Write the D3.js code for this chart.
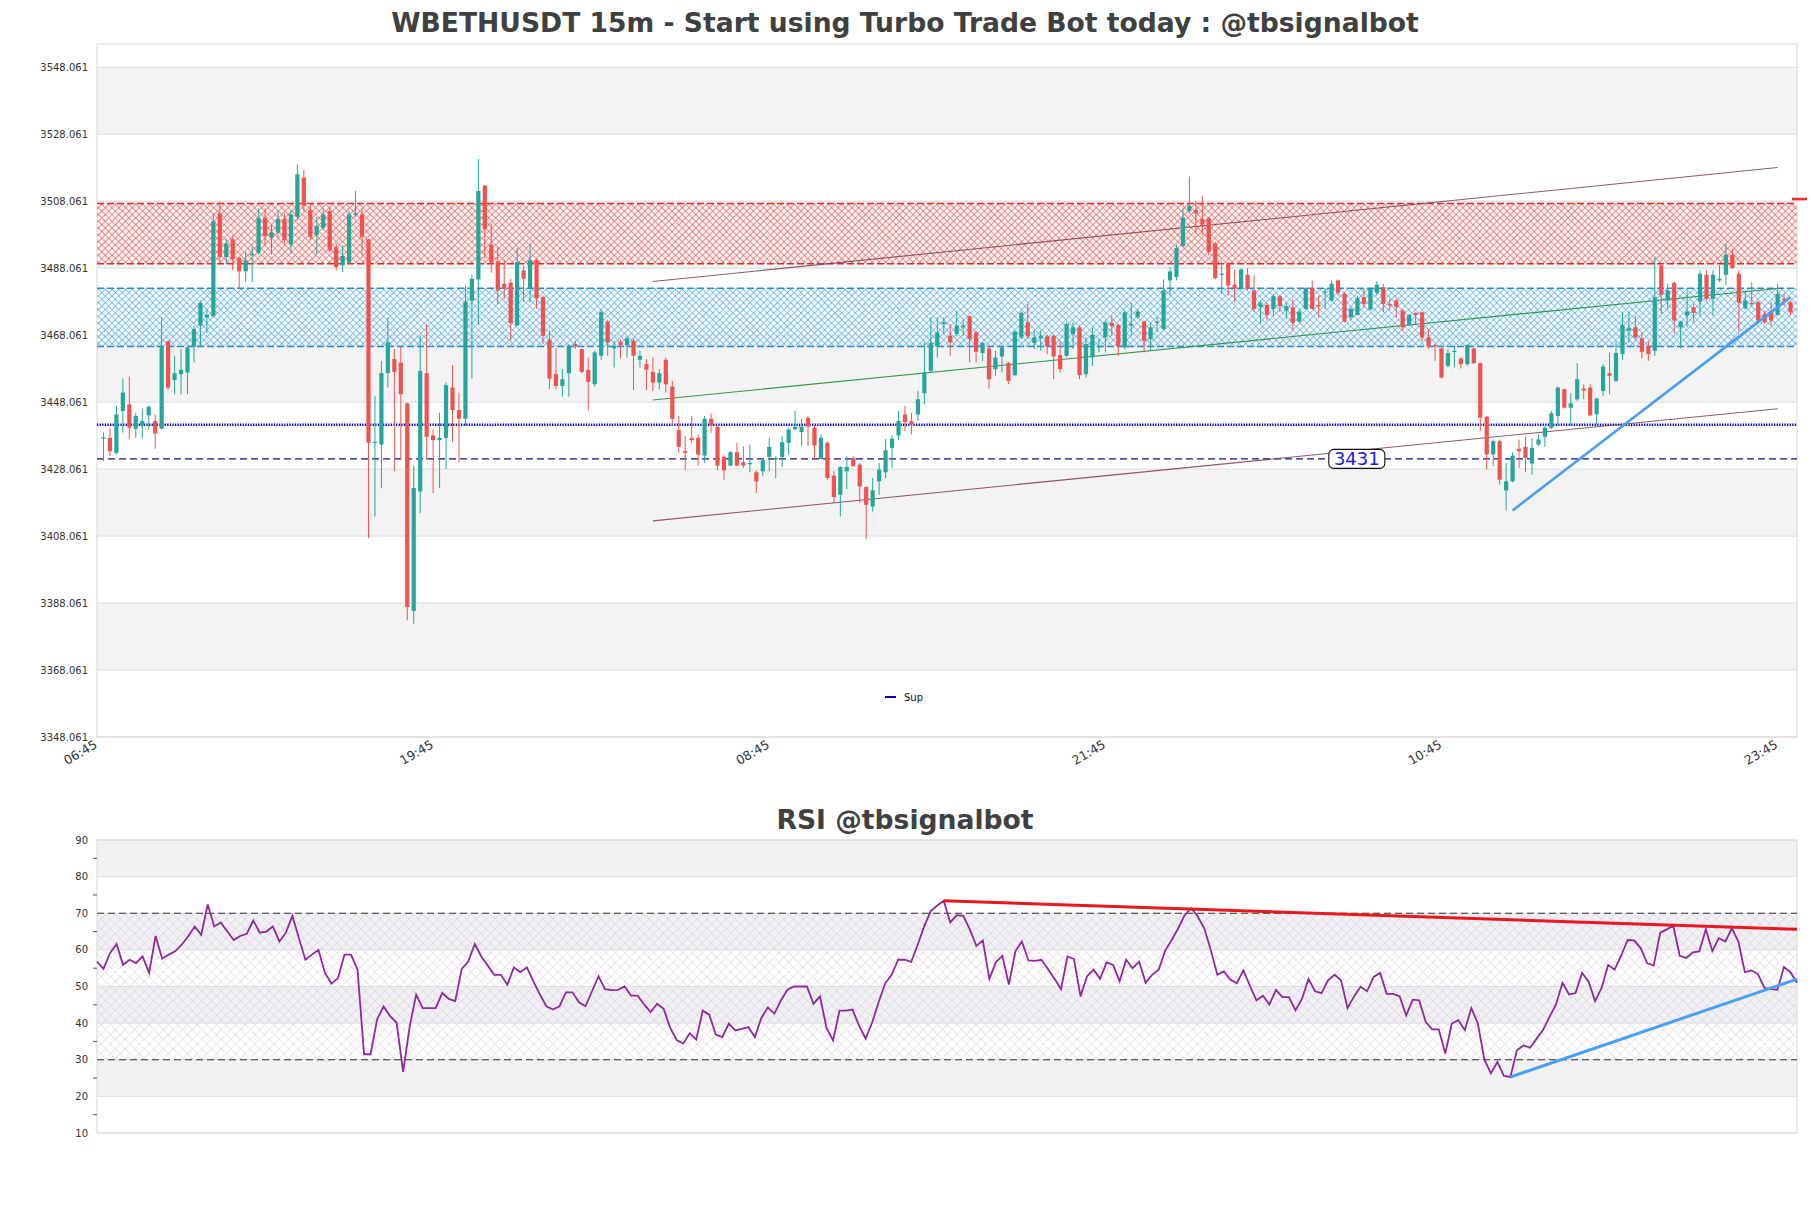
<!DOCTYPE html>
<html>
<head>
<meta charset="utf-8">
<script src="https://cdnjs.cloudflare.com/ajax/libs/d3/7.8.5/d3.min.js"></script>
<style>
  body { margin: 0; background: #fff; }
  svg { display: block; font-family: "DejaVu Sans", sans-serif; }
</style>
</head>
<body>
<div id="chart"></div>
<script>
// 15m candles, [open, high, low, close]
const ohlc = [
  [3437.3,3439.0,3430.4,3437.5],[3437.4,3440.4,3431.9,3433.4],[3432.9,3446.9,3432.4,3444.4],[3445.4,3455.1,3438.9,3450.9],
  [3447.4,3455.7,3436.9,3440.4],[3440.1,3444.9,3437.4,3443.9],[3441.1,3446.1,3437.1,3442.4],[3444.1,3446.9,3439.9,3446.7],
  [3442.4,3444.4,3434.1,3438.7],[3440.1,3473.4,3439.9,3464.9],[3466.2,3466.4,3451.7,3452.4],[3454.7,3461.9,3450.4,3456.7],
  [3456.4,3463.9,3450.4,3457.7],[3456.9,3464.9,3450.4,3464.4],[3464.7,3470.9,3459.9,3469.9],[3470.9,3478.4,3464.4,3477.7],
  [3473.4,3475.9,3468.7,3474.1],[3473.7,3504.4,3473.4,3502.1],[3504.4,3507.9,3489.4,3491.4],[3491.4,3496.9,3489.4,3495.4],
  [3496.7,3497.9,3487.4,3490.7],[3491.1,3491.4,3481.9,3487.1],[3487.1,3492.9,3483.9,3490.4],[3491.9,3494.4,3483.9,3492.4],
  [3492.7,3505.9,3492.1,3503.1],[3503.1,3505.9,3494.9,3497.7],[3497.1,3500.9,3492.1,3498.7],[3498.7,3505.4,3497.4,3502.7],
  [3502.7,3504.4,3495.4,3496.4],[3495.1,3505.4,3492.4,3504.1],[3503.4,3519.1,3502.4,3516.1],[3515.1,3517.4,3504.9,3506.7],
  [3505.4,3507.4,3496.4,3497.4],[3497.9,3503.4,3492.1,3500.7],[3500.1,3505.9,3499.4,3504.1],[3505.1,3506.4,3492.9,3493.4],
  [3494.4,3495.4,3487.4,3488.4],[3488.9,3494.9,3486.9,3491.7],[3489.7,3505.4,3489.4,3504.1],[3503.9,3511.1,3503.4,3504.4],
  [3504.1,3505.9,3491.9,3497.4],[3496.7,3496.9,3407.4,3435.9],[3435.9,3449.9,3413.9,3436.2],[3435.4,3460.4,3422.4,3456.7],
  [3456.7,3473.4,3452.4,3465.9],[3460.9,3463.9,3427.4,3457.1],[3459.9,3464.9,3430.9,3450.4],[3447.7,3447.9,3382.9,3386.9],
  [3385.7,3429.1,3381.9,3422.4],[3421.4,3467.9,3414.9,3457.4],[3456.7,3471.4,3430.9,3437.7],[3438.1,3439.9,3420.9,3436.7],
  [3436.7,3444.9,3422.4,3437.4],[3437.4,3453.9,3428.1,3453.1],[3452.4,3459.1,3436.1,3445.7],[3445.7,3450.9,3430.1,3443.1],
  [3443.1,3482.9,3441.1,3478.1],[3478.4,3486.1,3455.1,3484.9],[3484.7,3520.7,3471.1,3511.1],[3512.7,3512.9,3490.9,3499.7],
  [3495.1,3501.4,3486.7,3489.7],[3490.1,3494.4,3477.4,3481.4],[3483.4,3490.4,3478.9,3481.9],[3483.7,3484.9,3466.4,3471.7],
  [3470.9,3494.1,3470.9,3489.9],[3487.4,3488.9,3477.9,3484.9],[3482.1,3495.4,3477.9,3490.4],[3490.4,3490.9,3476.0,3479.1],
  [3479.4,3479.9,3465.4,3467.9],[3466.7,3469.4,3451.9,3455.1],[3456.4,3464.1,3451.9,3452.9],[3452.9,3457.9,3449.7,3454.9],
  [3456.7,3465.4,3449.7,3464.9],[3465.4,3466.4,3463.9,3464.7],[3463.9,3464.1,3456.7,3457.1],[3457.7,3461.4,3445.4,3454.1],
  [3453.4,3463.4,3452.7,3462.9],[3461.9,3475.9,3460.7,3474.9],[3472.1,3472.7,3461.9,3465.9],[3464.1,3466.4,3458.4,3464.9],
  [3466.1,3466.7,3461.1,3465.1],[3465.1,3467.7,3461.4,3467.1],[3466.4,3467.1,3451.7,3461.9],[3460.7,3463.4,3458.4,3461.9],
  [3459.4,3460.9,3451.7,3457.7],[3457.1,3461.4,3451.4,3453.9],[3453.9,3457.9,3451.9,3456.7],[3460.7,3461.4,3450.9,3453.4],
  [3452.7,3454.4,3441.1,3443.1],[3439.7,3443.9,3432.9,3434.7],[3433.4,3437.9,3427.7,3432.9],[3437.4,3443.9,3435.9,3436.7],
  [3437.4,3438.4,3429.1,3432.4],[3432.1,3443.9,3429.9,3443.1],[3443.1,3444.7,3438.9,3441.1],[3440.7,3440.9,3427.7,3429.1],
  [3431.7,3432.1,3424.9,3427.7],[3429.1,3433.4,3428.9,3433.1],[3433.1,3435.9,3428.9,3429.1],[3430.1,3434.9,3428.4,3429.1],
  [3429.5,3435.4,3427.1,3429.9],[3427.1,3427.7,3420.9,3424.4],[3427.4,3431.4,3425.9,3430.7],[3431.7,3437.4,3427.4,3434.7],
  [3430.9,3431.9,3425.4,3431.4],[3431.7,3437.9,3428.7,3436.1],[3435.9,3440.4,3432.4,3439.9],[3439.9,3445.4,3439.9,3440.7],
  [3439.1,3443.1,3434.9,3440.7],[3443.4,3443.9,3434.9,3440.7],[3440.4,3440.9,3430.7,3435.1],[3431.1,3438.4,3430.9,3437.4],
  [3435.9,3436.4,3424.9,3425.4],[3426.1,3427.4,3417.9,3419.7],[3420.4,3428.9,3413.9,3428.7],[3427.4,3431.9,3422.1,3428.7],
  [3431.4,3431.9,3428.9,3428.9],[3429.4,3429.9,3417.9,3422.9],[3422.7,3422.9,3407.1,3417.4],[3416.9,3425.4,3415.4,3421.7],
  [3424.4,3429.9,3420.4,3427.9],[3427.1,3437.1,3425.4,3433.7],[3434.4,3438.1,3428.4,3437.1],[3438.1,3445.4,3436.7,3442.4],
  [3444.4,3446.9,3439.4,3442.1],[3442.4,3444.9,3438.4,3441.4],[3444.4,3451.4,3442.4,3448.9],[3450.7,3465.9,3447.4,3456.9],
  [3457.4,3473.4,3456.7,3465.7],[3464.7,3473.4,3461.4,3468.9],[3471.4,3473.4,3468.4,3471.9],[3467.9,3471.4,3461.9,3465.9],
  [3468.4,3475.4,3467.7,3470.9],[3470.4,3472.7,3467.9,3470.9],[3473.7,3473.9,3459.9,3466.9],[3468.9,3469.4,3459.9,3463.1],
  [3462.7,3466.1,3460.4,3465.7],[3464.1,3464.9,3452.1,3454.9],[3457.9,3463.4,3455.9,3461.4],[3461.7,3464.9,3456.9,3464.4],
  [3459.7,3460.1,3453.4,3454.4],[3456.1,3469.4,3455.9,3469.1],[3467.4,3475.1,3466.9,3474.7],[3471.9,3477.4,3466.9,3467.7],
  [3465.7,3469.4,3463.9,3467.4],[3467.1,3469.4,3463.4,3467.9],[3467.7,3468.1,3462.4,3464.7],[3467.9,3468.1,3454.9,3461.7],
  [3462.1,3466.4,3456.9,3457.9],[3461.9,3471.9,3461.4,3471.4],[3468.4,3471.9,3463.9,3470.4],[3470.4,3470.9,3454.9,3456.1],
  [3456.4,3467.4,3455.4,3465.4],[3461.4,3470.4,3458.9,3468.1],[3464.4,3466.9,3462.9,3464.9],[3467.4,3472.4,3462.9,3471.9],
  [3471.7,3473.9,3467.9,3470.7],[3471.1,3471.4,3461.9,3464.7],[3464.4,3475.4,3463.9,3474.9],[3470.9,3477.7,3467.9,3471.4],
  [3473.4,3475.9,3472.9,3475.1],[3472.1,3472.4,3462.9,3466.4],[3466.9,3471.9,3463.4,3470.4],[3471.7,3473.4,3468.9,3472.1],
  [3469.9,3484.7,3469.4,3481.4],[3484.4,3488.4,3479.9,3487.1],[3485.4,3495.1,3484.4,3494.1],[3494.7,3505.9,3494.4,3503.1],
  [3505.1,3515.4,3504.4,3506.7],[3505.4,3508.1,3498.4,3504.4],[3502.7,3509.7,3497.9,3501.1],[3502.9,3503.4,3491.9,3492.9],
  [3495.4,3495.9,3484.7,3485.1],[3486.1,3490.1,3480.4,3486.4],[3489.4,3489.9,3479.9,3482.9],[3483.1,3487.7,3477.9,3481.9],
  [3481.9,3487.9,3481.4,3487.7],[3486.1,3488.1,3481.4,3481.9],[3481.4,3485.9,3474.9,3475.9],[3476.4,3478.4,3471.4,3477.7],
  [3477.1,3477.7,3472.4,3474.1],[3475.9,3480.4,3473.9,3479.7],[3479.7,3480.1,3474.9,3476.7],[3475.4,3477.9,3472.9,3476.7],
  [3476.4,3478.9,3469.4,3471.7],[3472.1,3475.9,3471.9,3475.1],[3475.9,3482.4,3475.7,3482.1],[3482.1,3484.4,3475.7,3475.9],
  [3477.1,3479.9,3473.4,3476.7],[3480.7,3482.1,3475.9,3481.1],[3478.4,3484.4,3477.9,3483.4],[3484.4,3484.7,3479.9,3480.7],
  [3480.4,3480.9,3471.9,3472.1],[3473.4,3476.4,3472.7,3475.9],[3474.1,3479.9,3473.9,3479.1],[3479.4,3482.1,3476.1,3477.4],
  [3475.7,3482.1,3475.4,3481.9],[3480.7,3484.1,3479.9,3483.1],[3482.4,3483.4,3474.9,3477.4],[3477.4,3478.9,3475.4,3476.9],
  [3478.4,3478.9,3473.4,3476.4],[3475.4,3475.9,3469.4,3470.4],[3471.1,3474.4,3470.9,3474.1],[3474.7,3474.9,3471.1,3474.1],
  [3474.9,3475.1,3466.1,3467.4],[3467.4,3469.9,3463.9,3464.9],[3465.1,3465.4,3460.4,3464.7],[3464.1,3464.4,3455.1,3455.4],
  [3458.9,3463.9,3458.4,3462.7],[3463.1,3464.9,3458.4,3463.4],[3461.1,3461.4,3458.1,3459.4],[3459.4,3465.4,3458.9,3465.1],
  [3464.1,3464.4,3459.4,3459.7],[3459.7,3459.9,3439.4,3443.4],[3443.7,3443.9,3427.9,3432.4],[3432.4,3436.9,3428.9,3436.4],
  [3436.4,3436.9,3423.4,3424.9],[3421.7,3429.9,3415.7,3424.4],[3424.4,3433.1,3424.1,3432.1],[3434.1,3436.9,3428.4,3433.4],
  [3434.7,3437.7,3427.1,3431.4],[3429.7,3437.4,3426.4,3434.4],[3435.4,3438.4,3434.9,3436.9],[3437.7,3440.9,3434.7,3440.4],
  [3440.4,3445.4,3440.1,3444.7],[3443.9,3452.7,3441.1,3452.4],[3451.9,3452.1,3446.1,3446.4],[3446.4,3450.7,3441.1,3447.7],
  [3448.9,3459.7,3448.4,3454.9],[3452.1,3453.4,3448.9,3451.5],[3452.4,3453.4,3443.9,3444.1],[3444.4,3449.4,3441.4,3449.1],
  [3451.4,3459.4,3449.9,3458.7],[3456.7,3462.9,3450.4,3455.9],[3454.4,3466.1,3454.1,3462.7],[3462.4,3474.9,3460.7,3471.1],
  [3469.4,3475.1,3465.9,3470.1],[3470.4,3473.9,3466.9,3467.4],[3467.1,3468.9,3461.1,3463.1],[3464.9,3466.4,3460.4,3462.4],
  [3463.4,3491.4,3461.9,3479.4],[3488.9,3489.4,3474.4,3480.1],[3478.4,3483.4,3475.9,3481.4],[3483.7,3484.1,3468.4,3472.4],
  [3470.4,3472.4,3464.1,3472.1],[3473.9,3481.4,3470.4,3475.1],[3476.4,3477.4,3472.1,3474.7],[3478.1,3487.4,3473.9,3486.4],
  [3486.1,3487.4,3478.4,3478.9],[3478.9,3487.4,3473.9,3486.1],[3484.4,3488.9,3483.9,3484.9],[3486.1,3495.4,3483.1,3492.1],
  [3492.1,3493.9,3487.9,3488.1],[3486.4,3487.4,3469.1,3477.7],[3476.1,3481.4,3475.7,3478.4],[3477.7,3483.9,3476.9,3477.3],
  [3477.9,3478.4,3472.1,3472.4],[3474.4,3475.4,3471.4,3471.9],[3475.1,3478.1,3470.9,3472.4],[3474.1,3483.4,3473.9,3480.4],
  [3478.9,3480.4,3476.9,3478.4],[3477.9,3478.4,3473.9,3474.9]
];

const rsi = [
  56.8,54.8,59.1,61.6,55.9,57.3,56.4,58.2,53.7,63.8,
  57.6,58.7,59.6,61.4,63.7,66.4,64.1,72.4,66.4,67.5,
  65.0,62.7,63.8,64.4,68.0,64.7,65.0,66.4,62.3,64.7,
  69.3,63.2,57.3,58.7,60.0,53.7,50.8,52.3,58.7,58.7,
  54.6,31.5,31.5,41.0,44.6,41.9,40.1,26.7,39.0,47.8,
  44.1,44.1,44.1,48.2,46.6,46.0,54.8,56.8,61.6,58.2,
  55.7,53.2,53.2,50.5,55.2,53.9,55.2,51.4,47.8,44.6,
  43.7,44.6,48.4,48.4,45.7,44.6,48.7,52.8,49.3,49.0,
  49.1,50.0,47.5,47.5,45.1,43.0,45.3,43.9,38.7,35.4,
  34.4,37.2,35.5,43.4,42.3,36.9,36.2,39.9,38.0,38.4,
  38.9,36.2,41.4,44.3,42.6,46.2,49.1,50.0,50.0,50.0,
  45.3,47.3,38.7,35.3,43.4,43.4,43.7,39.3,35.8,40.1,
  45.7,50.8,53.2,57.3,57.3,56.7,61.4,66.4,70.6,72.1,
  73.4,67.5,69.5,69.3,65.6,61.1,62.6,52.1,56.6,58.4,
  50.5,59.6,62.3,57.1,57.0,57.3,54.8,52.1,49.3,58.2,
  57.5,47.3,52.8,54.6,52.1,56.6,55.9,51.4,57.3,55.0,
  56.8,51.0,53.2,54.6,59.8,62.7,65.9,69.5,71.4,69.1,
  65.9,60.0,53.2,54.1,51.9,50.9,54.4,50.2,46.2,47.5,
  45.1,49.1,47.1,47.1,43.5,46.6,52.1,48.7,48.2,51.7,
  53.2,51.7,44.1,47.3,49.9,48.7,52.6,53.7,48.0,48.0,
  47.3,42.1,46.4,46.2,40.3,38.3,38.3,31.7,39.9,40.8,
  38.1,44.1,39.9,30.1,26.3,29.4,25.6,25.3,32.6,33.9,
  33.3,35.7,38.1,41.7,45.1,51.0,47.8,48.2,53.7,51.4,
  46.0,49.6,55.9,54.6,58.4,62.7,62.6,60.5,56.4,55.7,
  64.7,65.6,66.6,58.4,57.8,59.3,59.6,65.6,59.7,63.2,
  62.3,65.9,62.3,53.9,54.4,53.4,49.6,49.3,49.1,55.3,
  53.9,51.0
];

const priceTicks = [3348.061,3368.061,3388.061,3408.061,3428.061,3448.061,3468.061,3488.061,3508.061,3528.061,3548.061];
const timeTickIdx = [0, 52, 104, 156, 208, 260];
const timeLabels = ['06:45', '19:45', '08:45', '21:45', '10:45', '23:45'];
const rsiTicks = [10, 20, 30, 40, 50, 60, 70, 80, 90];

const resistZone = [3489.4, 3507.4];
const supportZone = [3464.7, 3482.1];
const supLevel = 3441.3;
const dashLevel = 3431.1;
const dashLabel = '3431';
const edgeMark = 3508.7;

// trend lines as [[index, price], [index, price]]
const upperChannel = [[85, 3484.1], [259, 3518.1]];
const lowerChannel = [[85, 3412.6], [259, 3446.1]];
const midTrend = [[85, 3448.7], [259, 3482.0]];
const riseTrend = [[218, 3415.7], [261, 3479.4]];
const rsiFall = [[130, 73.4], [261, 65.6]];
const rsiRise = [[217, 25.3], [261, 52.0]];

const W = 1811, H = 1208;
const left = 97, right = 1797;
const main = { top: 44, bottom: 737 };
const sub = { top: 840, bottom: 1133 };

const svg = d3.select('#chart').append('svg')
  .attr('width', W).attr('height', H)
  .attr('viewBox', [0, 0, W, H].join(' '));

const x = d3.scaleLinear().domain([-1, ohlc.length]).range([left, right]);
const y = d3.scaleLinear().domain([3348.061, 3555]).range([main.bottom, main.top]);
const xr = d3.scaleLinear().domain([0, rsi.length - 1]).range([left, right]);
const yr = d3.scaleLinear().domain([10, 90]).range([sub.bottom, sub.top]);

// hatch patterns
const defs = svg.append('defs');
function hatch(id, size, color, width) {
  const p = defs.append('pattern')
    .attr('id', id)
    .attr('patternUnits', 'userSpaceOnUse')
    .attr('width', size).attr('height', size)
    .attr('patternTransform', 'rotate(45)');
  p.append('line').attr('x1', 0).attr('y1', 0).attr('x2', size).attr('y2', 0)
    .attr('stroke', color).attr('stroke-width', width);
  p.append('line').attr('x1', 0).attr('y1', 0).attr('x2', 0).attr('y2', size)
    .attr('stroke', color).attr('stroke-width', width);
}
hatch('hatchRed', 4.8, '#e0302e', 1.0);
hatch('hatchBlue', 4.8, '#1f8fd6', 1.0);
hatch('hatchRsi', 6.8, '#d3c3d3', 0.8);

// ---------- main chart ----------
const g = svg.append('g');

// alternating bands
priceTicks.slice(0, -1).forEach((t, i) => {
  if (i % 2 === 1) {
    g.append('rect')
      .attr('x', left).attr('width', right - left)
      .attr('y', y(priceTicks[i + 1])).attr('height', y(t) - y(priceTicks[i + 1]))
      .attr('fill', '#f3f3f3');
  }
});

g.selectAll('.grid').data(priceTicks).enter().append('line')
  .attr('x1', left).attr('x2', right)
  .attr('y1', d => y(d)).attr('y2', d => y(d))
  .attr('stroke', '#dcdcdc').attr('stroke-width', 1);

g.append('rect')
  .attr('x', left).attr('y', main.top)
  .attr('width', right - left).attr('height', main.bottom - main.top)
  .attr('fill', 'none').attr('stroke', '#d8d8d8');

// zones
function zone(range, fill, hatchId, stroke) {
  const y0 = y(range[1]), y1 = y(range[0]);
  g.append('rect').attr('x', left).attr('width', right - left)
    .attr('y', y0).attr('height', y1 - y0).attr('fill', fill);
  g.append('rect').attr('x', left).attr('width', right - left)
    .attr('y', y0).attr('height', y1 - y0).attr('fill', 'url(#' + hatchId + ')');
  [y0, y1].forEach(v => {
    g.append('line').attr('x1', left).attr('x2', right)
      .attr('y1', v).attr('y2', v)
      .attr('stroke', stroke).attr('stroke-width', 1.5)
      .attr('stroke-dasharray', '7,3');
  });
}
zone(resistZone, 'rgba(255,240,240,0.6)', 'hatchRed', '#df2a2a');
zone(supportZone, 'rgba(240,248,255,0.5)', 'hatchBlue', '#1e8fd5');

// horizontal levels
g.append('line')
  .attr('x1', left).attr('x2', right)
  .attr('y1', y(supLevel)).attr('y2', y(supLevel))
  .attr('stroke', '#0000d0').attr('stroke-width', 2.4)
  .attr('stroke-dasharray', '1.3,1.3');
g.append('line')
  .attr('x1', left).attr('x2', right)
  .attr('y1', y(dashLevel)).attr('y2', y(dashLevel))
  .attr('stroke', '#10108a').attr('stroke-width', 1.3)
  .attr('stroke-dasharray', '7,4');

// thin channel lines
const seg = (pts, xs, ys) => d3.line().x(d => xs(d[0])).y(d => ys(d[1]))(pts);
g.append('path').attr('d', seg(upperChannel, x, y))
  .attr('stroke', '#7d3b4e').attr('stroke-width', 1.1).attr('fill', 'none').attr('opacity', 0.85);
g.append('path').attr('d', seg(lowerChannel, x, y))
  .attr('stroke', '#7d3b4e').attr('stroke-width', 1.1).attr('fill', 'none').attr('opacity', 0.85);
g.append('path').attr('d', seg(midTrend, x, y))
  .attr('stroke', '#2e9a46').attr('stroke-width', 1.1).attr('fill', 'none');

// candles
const bw = 4.2;
const candles = g.append('g').selectAll('g').data(ohlc).enter().append('g');
candles.append('line')
  .attr('x1', (d, i) => x(i)).attr('x2', (d, i) => x(i))
  .attr('y1', d => y(d[1])).attr('y2', d => y(d[2]))
  .attr('stroke', d => d[3] >= d[0] ? '#26a69a' : '#ef5350')
  .attr('stroke-width', 1);
candles.append('rect')
  .attr('x', (d, i) => x(i) - bw / 2).attr('width', bw)
  .attr('y', d => y(Math.max(d[0], d[3])))
  .attr('height', d => Math.max(1.2, Math.abs(y(d[0]) - y(d[3]))))
  .attr('fill', d => d[3] >= d[0] ? '#26a69a' : '#ef5350');

// rising trend line
g.append('path').attr('d', seg(riseTrend, x, y))
  .attr('stroke', '#4a9ff0').attr('stroke-width', 2.6).attr('fill', 'none');

// price label on dashed level
const lx = x(193.9), ly = y(dashLevel);
g.append('rect')
  .attr('x', lx - 28).attr('y', ly - 9.5).attr('width', 56).attr('height', 19)
  .attr('rx', 5).attr('fill', '#fff').attr('stroke', '#111').attr('stroke-width', 1.1);
g.append('text')
  .attr('x', lx).attr('y', ly + 6.5)
  .attr('text-anchor', 'middle').attr('font-size', 18)
  .attr('fill', '#1a1ad8').text(dashLabel);

// little red mark past the right edge
g.append('line')
  .attr('x1', right - 5).attr('x2', right + 10)
  .attr('y1', y(edgeMark)).attr('y2', y(edgeMark))
  .attr('stroke', '#e53030').attr('stroke-width', 2.6);

// y labels
g.selectAll('.ylab').data(priceTicks).enter().append('text')
  .attr('x', left - 9).attr('y', d => y(d) + 3.5)
  .attr('text-anchor', 'end').attr('font-size', 10).attr('fill', '#333')
  .text(d => d.toFixed(3));

// x labels
g.selectAll('.xlab').data(timeTickIdx).enter().append('text')
  .attr('transform', d => 'translate(' + (x(d) - 10) + ',' + (main.bottom + 2) + ') rotate(-30)')
  .attr('text-anchor', 'end').attr('dy', '0.75em')
  .attr('font-size', 12.5).attr('fill', '#333')
  .text((d, i) => timeLabels[i]);

// legend
g.append('line').attr('x1', 885).attr('x2', 896).attr('y1', 697).attr('y2', 697)
  .attr('stroke', '#0000d0').attr('stroke-width', 2);
g.append('text').attr('x', 904).attr('y', 700.5)
  .attr('font-size', 10).attr('fill', '#111').text('Sup');

// title
svg.append('text')
  .attr('x', 905).attr('y', 32).attr('text-anchor', 'middle')
  .attr('font-size', 26.6).attr('font-weight', 'bold').attr('fill', '#404040')
  .text('WBETHUSDT 15m - Start using Turbo Trade Bot today : @tbsignalbot');

// ---------- RSI chart ----------
const r = svg.append('g');
[[80, 90], [60, 70], [40, 50], [20, 30]].forEach(b => {
  r.append('rect').attr('x', left).attr('width', right - left)
    .attr('y', yr(b[1])).attr('height', yr(b[0]) - yr(b[1]))
    .attr('fill', '#f1f1f4');
});
r.append('rect').attr('x', left).attr('width', right - left)
  .attr('y', yr(70)).attr('height', yr(30) - yr(70))
  .attr('fill', 'url(#hatchRsi)');

r.selectAll('.rgrid').data(rsiTicks).enter().append('line')
  .attr('x1', left).attr('x2', right)
  .attr('y1', d => yr(d)).attr('y2', d => yr(d))
  .attr('stroke', '#dedede');
r.append('rect')
  .attr('x', left).attr('y', sub.top)
  .attr('width', right - left).attr('height', sub.bottom - sub.top)
  .attr('fill', 'none').attr('stroke', '#d8d8d8');

[70, 30].forEach(v => {
  r.append('line').attr('x1', left).attr('x2', right)
    .attr('y1', yr(v)).attr('y2', yr(v))
    .attr('stroke', '#333').attr('stroke-width', 1.2)
    .attr('stroke-dasharray', '7,4');
});

r.append('path').datum(rsi)
  .attr('d', d3.line().x((d, i) => xr(i)).y(d => yr(d)))
  .attr('fill', 'none').attr('stroke', '#8e2a9c').attr('stroke-width', 1.8);

r.append('path').attr('d', seg(rsiFall, xr, yr))
  .attr('stroke', '#e8191e').attr('stroke-width', 3).attr('fill', 'none');
r.append('path').attr('d', seg(rsiRise, xr, yr))
  .attr('stroke', '#4a9ff0').attr('stroke-width', 3).attr('fill', 'none');

r.selectAll('.rlab').data(rsiTicks).enter().append('text')
  .attr('x', left - 9).attr('y', d => yr(d) + 3.5)
  .attr('text-anchor', 'end').attr('font-size', 10).attr('fill', '#333')
  .text(d => d);
r.selectAll('.rminor').data(rsiTicks.slice(0, -1).map(d => d + 5)).enter().append('line')
  .attr('x1', left - 4).attr('x2', left)
  .attr('y1', d => yr(d)).attr('y2', d => yr(d))
  .attr('stroke', '#555');

svg.append('text')
  .attr('x', 905).attr('y', 829).attr('text-anchor', 'middle')
  .attr('font-size', 26.6).attr('font-weight', 'bold').attr('fill', '#404040')
  .text('RSI @tbsignalbot');
</script>
</body>
</html>
